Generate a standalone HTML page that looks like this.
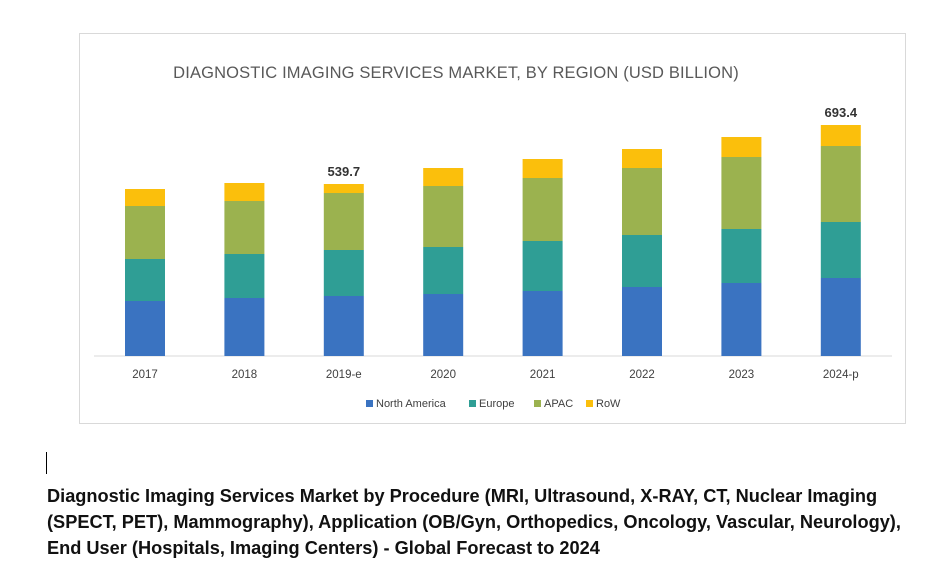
<!DOCTYPE html>
<html><head><meta charset="utf-8"><style>
body{margin:0;background:#fff;width:940px;height:586px;overflow:hidden;font-family:"Liberation Sans",sans-serif}
#box{position:absolute;left:79px;top:33px;width:827px;height:391px;border:1px solid #d9d9d9;box-sizing:border-box}
#caption{position:absolute;left:47px;top:483px;width:900px;font-weight:bold;font-size:18.2px;line-height:26px;color:#111;white-space:nowrap}
#cursor{position:absolute;left:46px;top:452px;width:1px;height:22px;background:#000}
</style></head><body>
<div id="box"></div>
<svg id="chart" width="940" height="440" style="position:absolute;left:0;top:0">
<text x="456" y="78" text-anchor="middle" font-size="16.5" letter-spacing="0.15" fill="#595959">DIAGNOSTIC IMAGING SERVICES MARKET, BY REGION (USD BILLION)</text>
<line x1="94" y1="356" x2="892" y2="356" stroke="#d9d9d9"/>
<g id="bars"></g><g id="xlabels"></g><g id="legend"></g>
</svg>
<div id="cursor"></div>
<div id="caption">Diagnostic Imaging Services Market by Procedure (MRI, Ultrasound, X-RAY, CT, Nuclear Imaging<br>(SPECT, PET), Mammography), Application (OB/Gyn, Orthopedics, Oncology, Vascular, Neurology),<br>End User (Hospitals, Imaging Centers) - Global Forecast to 2024</div>
<script>
const categories=["2017","2018","2019-e","2020","2021","2022","2023","2024-p"];
const northAmerica=[165,174,180,186,195,207,219,234];
const europe=[126,132,138,141,150,156,162,168];
const apac=[159,159,171,183,189,201,216,228];
const row=[51,54,27,54,57,57,60,63];
const totalLabels=["","","539.7","","","","","693.4"];
const seriesNames=["North America","Europe","APAC","RoW"];
const colors=["#3a73c1","#2f9e95","#9bb24f","#fbbf0c"];
const series=[northAmerica,europe,apac,row];
const NS="http://www.w3.org/2000/svg";
const base=356,k=231/693;
const x=i=>145+i*99.4;
const y=v=>base-v*k;
const bw=40;
const bars=document.getElementById('bars');
function mk(t,a,p){const e=document.createElementNS(NS,t);for(const n in a)e.setAttribute(n,a[n]);p.appendChild(e);return e;}
categories.forEach((c,i)=>{
  let cum=0;
  series.forEach((s,j)=>{
    const r=mk('rect',{x:x(i)-bw/2,y:y(cum+s[i]),width:bw,height:s[i]*k,fill:colors[j]},bars);
    
    
    cum+=s[i];
  });
  if(totalLabels[i]){
    const t=mk('text',{x:x(i),y:y(cum)-8,'text-anchor':'middle','font-size':13,'font-weight':'bold',fill:'#333'},bars);
    t.textContent=totalLabels[i];
    
    
  }
  const l=mk('text',{x:x(i),y:378,'text-anchor':'middle','font-size':11.5,fill:'#404040'},document.getElementById('xlabels'));
  l.textContent=c;
  
  
});
const lg=document.getElementById('legend');
const lx=[366,469,534,586];
seriesNames.forEach((n,j)=>{
  const g=mk('g',{},lg);
  
  
  mk('rect',{x:lx[j],y:400,width:7,height:7,fill:colors[j]},g);
  const t=mk('text',{x:lx[j]+10,y:407,'font-size':11,fill:'#404040'},g);
  t.textContent=n;
});
</script>
</body></html>
